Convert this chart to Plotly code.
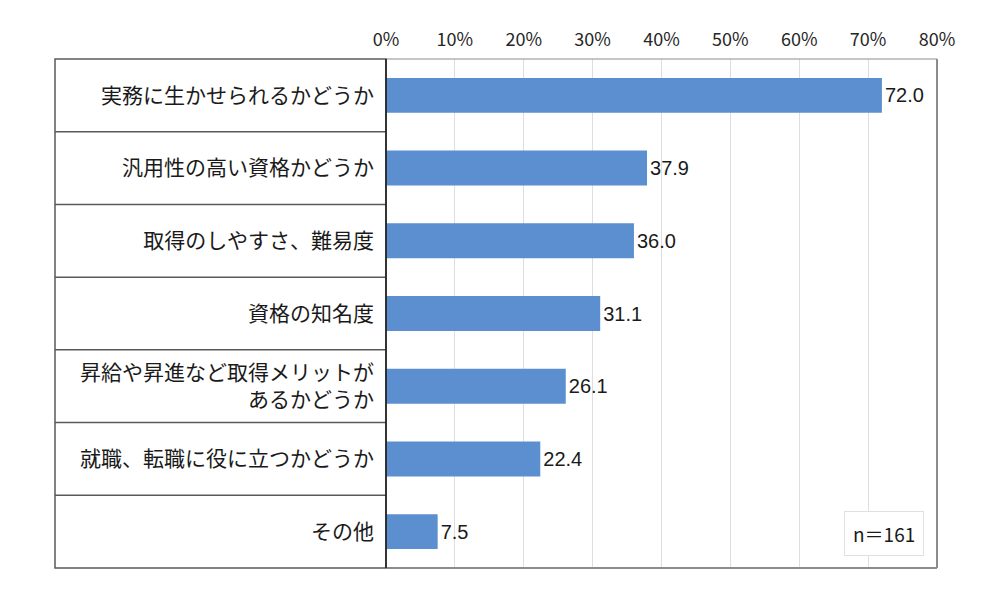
import plotly.graph_objects as go

# survey items, top to bottom
CATEGORIES = [
    "実務に生かせられるかどうか",
    "汎用性の高い資格かどうか",
    "取得のしやすさ、難易度",
    "資格の知名度",
    "昇給や昇進など取得メリットが<br>あるかどうか",
    "就職、転職に役に立つかどうか",
    "その他",
]
VALUES = [72.0, 37.9, 36.0, 31.1, 26.1, 22.4, 7.5]
X_TICKS = [0, 10, 20, 30, 40, 50, 60, 70, 80]
N_LABEL = "n＝161"

BAR = "#5b8fcf"
INK = "#1a1a1a"
BOX_LINE = "#595959"
FRAME = "#8c8c8c"
GRID = "#dedede"
JP_FONT = '"Noto Sans CJK JP", "Noto Sans", sans-serif'

# left label box spans from page x=55 to the axis at x=386, plot is 551px wide
BOX_LEFT = (55 - 386) / 551

fig = go.Figure(go.Bar(
    x=VALUES, y=CATEGORIES, orientation="h",
    marker=dict(color=BAR, line=dict(width=0)),
    width=0.48,
    text=[f"{v:.1f}" for v in VALUES], textposition="outside",
    textfont=dict(family="Liberation Sans, Arial, sans-serif", size=20, color=INK),
    cliponaxis=False,
    hoverinfo="skip",
))

shapes = []
n = len(CATEGORIES)
# label box outline and row separators
shapes.append(dict(type="rect", xref="paper", yref="paper", x0=BOX_LEFT, x1=0, y0=0, y1=1,
                   line=dict(color=BOX_LINE, width=1.5)))
for i in range(1, n):
    shapes.append(dict(type="line", xref="paper", yref="paper", x0=BOX_LEFT, x1=0,
                       y0=i / n, y1=i / n, line=dict(color=BOX_LINE, width=1.5)))
# plot frame: top, right, bottom grey, left axis dark
shapes.append(dict(type="line", xref="paper", yref="paper", x0=0, x1=1, y0=1, y1=1,
                   line=dict(color=FRAME, width=1.2)))
shapes.append(dict(type="line", xref="paper", yref="paper", x0=1, x1=1, y0=0, y1=1,
                   line=dict(color=FRAME, width=2)))
shapes.append(dict(type="line", xref="paper", yref="paper", x0=0, x1=1, y0=0, y1=0,
                   line=dict(color=FRAME, width=2)))
shapes.append(dict(type="line", xref="paper", yref="paper", x0=0, x1=0, y0=0, y1=1,
                   line=dict(color=INK, width=1.5)))

# page body has an 8px margin, so margins are shifted by 8
fig.update_layout(
    width=1000, height=603,
    margin=dict(l=378, r=71, t=51, b=43),
    paper_bgcolor="white", plot_bgcolor="white",
    font=dict(family=JP_FONT, color=INK),
    showlegend=False,
    bargap=0.52,
    shapes=shapes,
    annotations=[dict(
        text=N_LABEL, xref="paper", yref="paper", x=0.903, y=0.067,
        xanchor="center", yanchor="middle",
        showarrow=False, font=dict(family=JP_FONT, size=19, color=INK),
        bordercolor="#e0e0e0", borderwidth=1, borderpad=8, bgcolor="white",
    )],
)
fig.update_xaxes(
    side="top", range=[0, 80], tickvals=X_TICKS,
    ticktext=[f"{t}%" for t in X_TICKS],
    tickfont=dict(family=JP_FONT, size=18, color="#262626"),
    showgrid=True, gridcolor=GRID, gridwidth=1,
    zeroline=False, showline=False, ticks="",
    ticklabelstandoff=8,
)
fig.update_yaxes(
    autorange="reversed",
    tickfont=dict(family=JP_FONT, size=21, color=INK),
    showgrid=False, zeroline=False, showline=False, ticks="",
    ticklabelstandoff=11,
)

fig.write_html("out.html")
